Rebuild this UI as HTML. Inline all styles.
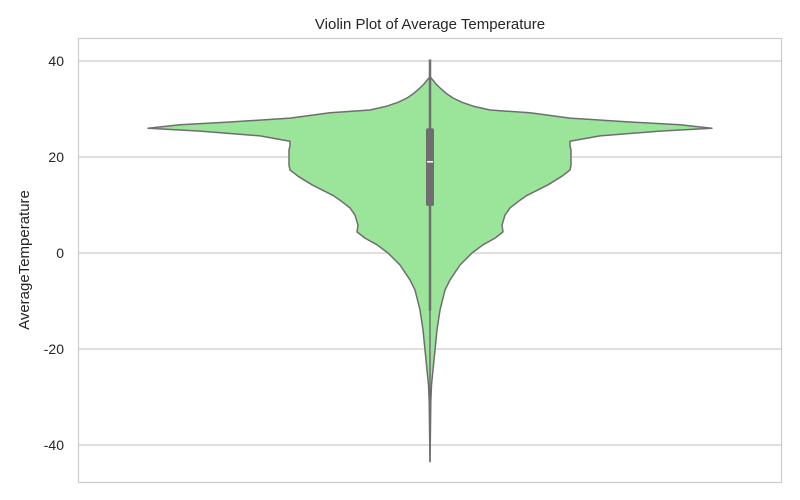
<!DOCTYPE html>
<html><head><meta charset="utf-8"><style>
body{margin:0;background:#fff;}
svg{display:block;font-family:"Liberation Sans",sans-serif;}
</style></head><body>
<svg id="chart" width="800" height="500">
<text x="430" y="29" text-anchor="middle" font-size="15" fill="#262626">Violin Plot of Average Temperature</text>
<text transform="translate(29,260) rotate(-90)" text-anchor="middle" font-size="15" fill="#262626">AverageTemperature</text>
<g id="grid"></g>
<g id="violin"></g>
<rect x="78.5" y="38.5" width="703" height="444" fill="none" stroke="#cccccc" stroke-width="1.2"/>
</svg>
<script>
const yTicks=[40,20,0,-20,-40];
const tempLevels=[36.7,36,35.2,34.4,33.3,32.3,31.4,30.6,29.8,29.2,28.1,27.3,26.7,26,25.4,24.4,23.3,22.3,21.5,20,18.3,17.3,16,14.2,12,11,9.4,7.9,5.8,4.4,3.1,1.7,0,-2.5,-5.6,-7.7,-11.9,-16,-20.2,-24.4,-27.5,-31,-36,-43.5];
const densityValues=[0,3,6,10,16,23,32,43,60,100,140,200,250,282,230,170,140,140,141,141,141,140,132,118,97,90,80,75,72,73,65,53,42,30,20,15,10,7,5,3,1.5,0.8,0.5,0];
const boxStats=[9.8,19,26];
const whiskerRange=[-12,40.3];

const NS="http://www.w3.org/2000/svg";
const L=78,R=781,T=38,B=482,CX=430;
const y=v=>253-4.8*v;
const w=d=>d*1.0;
const grid=document.getElementById('grid');
const vg=document.getElementById('violin');
function mk(tag,attrs,parent){const e=document.createElementNS(NS,tag);for(const k in attrs)e.setAttribute(k,attrs[k]);parent.appendChild(e);return e;}
yTicks.forEach(t=>{
  const ln=mk('line',{x1:L,x2:R,y1:y(t),y2:y(t),stroke:'#cccccc','stroke-width':1.2},grid);
  
  
  const tx=mk('text',{x:L-14,y:y(t)+5,'text-anchor':'end','font-size':14,fill:'#262626'},grid);
  tx.textContent=String(t);
  
  
});
let right=[],left=[];
tempLevels.forEach((t,i)=>{right.push((CX+w(densityValues[i])).toFixed(1)+','+y(t).toFixed(1));left.push((CX-w(densityValues[i])).toFixed(1)+','+y(t).toFixed(1));});
const pts=right.concat(left.reverse());
const body=mk('polygon',{points:pts.join(' '),fill:'#9ae59a',stroke:'#6e6e6e','stroke-width':1.5,'stroke-linejoin':'round'},vg);


const tail=mk('line',{x1:CX,x2:CX,y1:y(tempLevels[0]),y2:y(tempLevels[tempLevels.length-1]),stroke:'#6e6e6e','stroke-width':1.5},vg);


const wh=mk('line',{x1:CX,x2:CX,y1:y(whiskerRange[1]),y2:y(whiskerRange[0]),stroke:'#6e6e6e','stroke-width':2.5},vg);


const box=mk('rect',{x:CX-4,y:y(boxStats[2]),width:8,height:y(boxStats[0])-y(boxStats[2]),rx:2,fill:'#6e6e6e'},vg);


const med=mk('line',{x1:CX-3,x2:CX+3,y1:y(boxStats[1]),y2:y(boxStats[1]),stroke:'#fff','stroke-width':1.5},vg);


</script>
</body></html>
